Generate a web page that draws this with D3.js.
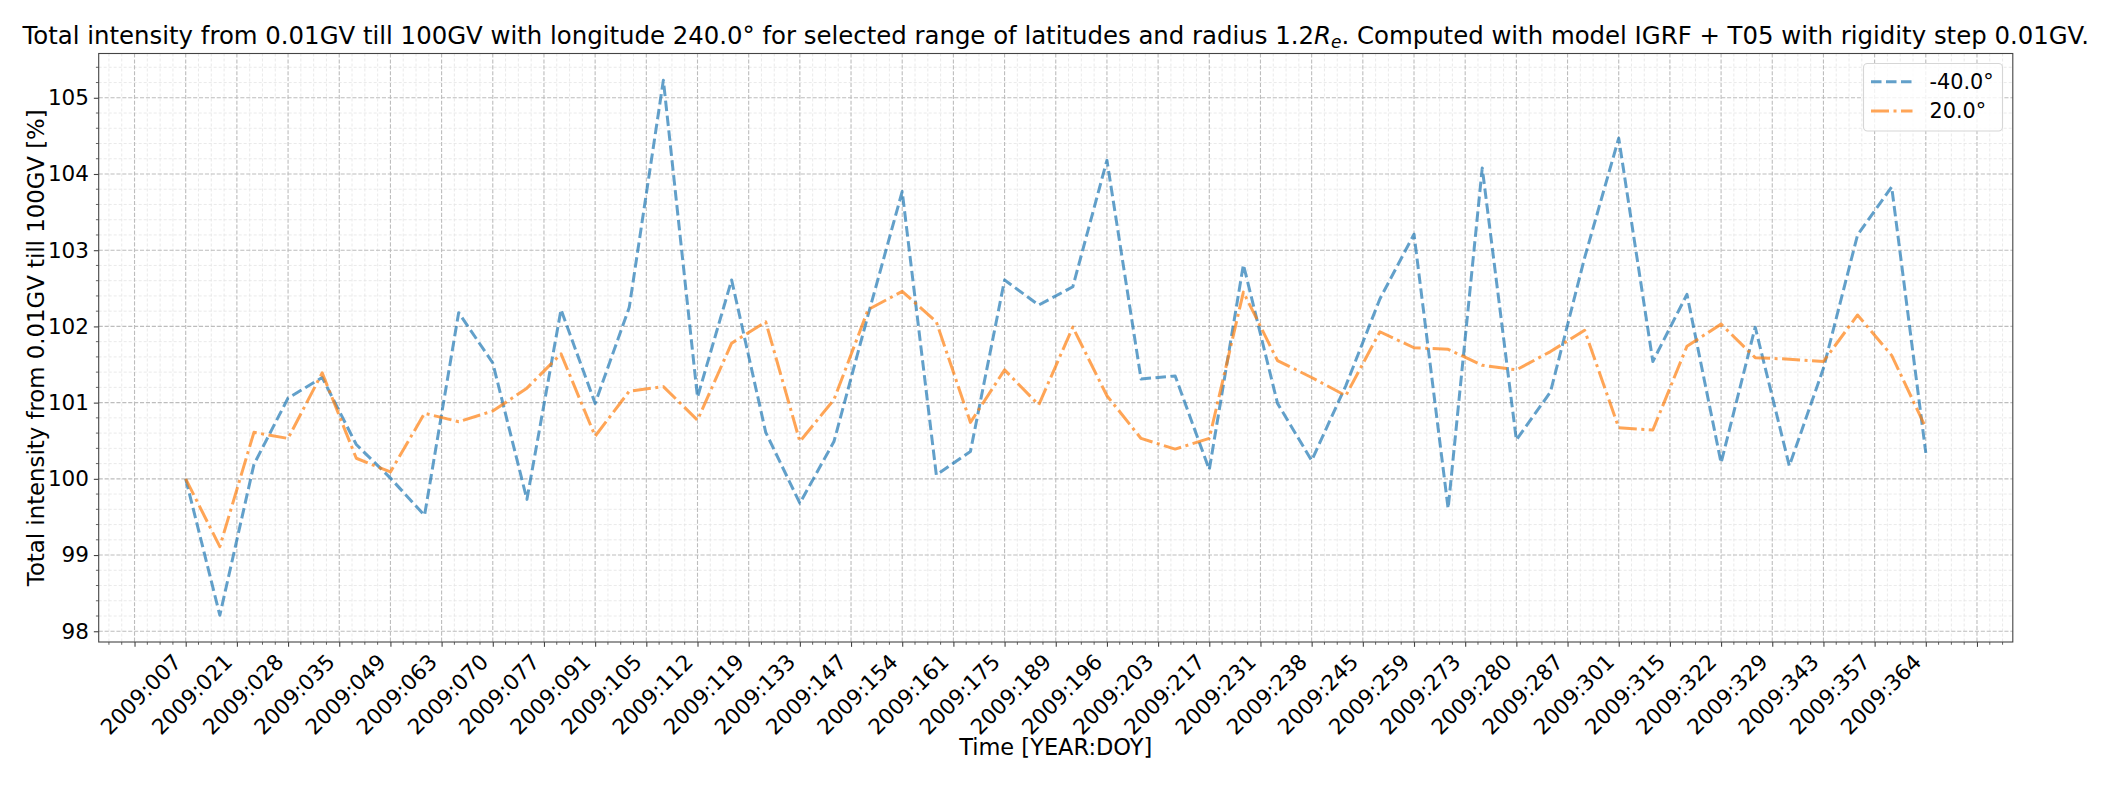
<!DOCTYPE html>
<html>
<head>
<meta charset="utf-8">
<script src="https://cdn.jsdelivr.net/npm/d3@7"></script>
<style>
  html, body { margin: 0; padding: 0; background: #ffffff; }
  svg { display: block; }
  text { font-family: "DejaVu Sans", sans-serif; fill: #000; }
</style>
</head>
<body>
<div id="chart"></div>
<script>
// ---------------- data ----------------
const categories = [
  "2009:007","2009:014","2009:021","2009:028","2009:035","2009:042","2009:049","2009:056",
  "2009:063","2009:070","2009:077","2009:084","2009:091","2009:098","2009:105","2009:112",
  "2009:119","2009:126","2009:133","2009:140","2009:147","2009:154","2009:161","2009:168",
  "2009:175","2009:182","2009:189","2009:196","2009:203","2009:210","2009:217","2009:224",
  "2009:231","2009:238","2009:245","2009:252","2009:259","2009:266","2009:273","2009:280",
  "2009:287","2009:294","2009:301","2009:308","2009:315","2009:322","2009:329","2009:336",
  "2009:343","2009:350","2009:357","2009:364"
];
const seriesLat40S = [
  100.00, 98.21, 100.19, 101.06, 101.33, 100.45, 100.01, 99.52,
  102.18, 101.52, 99.73, 102.22, 100.99, 102.25, 105.23, 101.07,
  102.61, 100.61, 99.68, 100.49, 102.15, 103.77, 100.05, 100.36,
  102.61, 102.28, 102.52, 104.18, 101.31, 101.35, 100.12, 102.81,
  100.99, 100.24, 101.22, 102.36, 103.21, 99.61, 104.08, 100.51,
  101.14, 102.90, 104.47, 101.54, 102.42, 100.21, 101.99, 100.17,
  101.45, 103.20, 103.83, 100.34
];
const seriesLat20N = [
  100.00, 99.11, 100.61, 100.53, 101.39, 100.27, 100.09, 100.86,
  100.75, 100.89, 101.19, 101.64, 100.56, 101.15, 101.21, 100.77,
  101.78, 102.06, 100.49, 101.04, 102.22, 102.46, 102.06, 100.74,
  101.43, 100.97, 101.99, 101.09, 100.53, 100.39, 100.53, 102.45,
  101.55, 101.33, 101.09, 101.93, 101.72, 101.70, 101.49, 101.43,
  101.67, 101.95, 100.67, 100.64, 101.74, 102.03, 101.59, 101.57,
  101.54, 102.15, 101.62, 100.67
];
const seriesNames = ["-40.0\u00b0", "20.0\u00b0"];
// tick labels shown on the x axis (one every 1.5 samples)
const xTickLabels = [
  "2009:007","2009:021","2009:028","2009:035","2009:049","2009:063","2009:070","2009:077",
  "2009:091","2009:105","2009:112","2009:119","2009:133","2009:147","2009:154","2009:161",
  "2009:175","2009:189","2009:196","2009:203","2009:217","2009:231","2009:238","2009:245",
  "2009:259","2009:273","2009:280","2009:287","2009:301","2009:315","2009:322","2009:329",
  "2009:343","2009:357","2009:364"
];
const yTickValues = [98, 99, 100, 101, 102, 103, 104, 105];

// ---------------- layout ----------------
const W = 2110, H = 785;
const M = { left: 98.7, right: W - 2012.8, top: 53.5, bottom: H - 642 };
const pw = W - M.left - M.right, ph = H - M.top - M.bottom;
const FS = 21.5;      // tick label size
const FSL = 20.8;     // legend size

const svg = d3.select("#chart").append("svg")
  .attr("width", W).attr("height", H).attr("viewBox", `0 0 ${W} ${H}`);
svg.append("rect").attr("width", W).attr("height", H).attr("fill", "#fff");

const n = categories.length;
const xPad = (n - 1) * 0.05;
const x = d3.scaleLinear().domain([-xPad, (n - 1) + xPad]).range([M.left, M.left + pw]);
const all = seriesLat40S.concat(seriesLat20N);
const yMin = d3.min(all), yMax = d3.max(all), yPad = (yMax - yMin) * 0.05;
const y = d3.scaleLinear().domain([yMin - yPad, yMax + yPad]).range([M.top + ph, M.top]);

const step = 1.5;
const xMajor = d3.range(-step, n - 1 + step + 0.001, step);
const xMinor = d3.range(-2.25, n - 1 + 2.3, step / 4).filter(v => Math.abs(v / step - Math.round(v / step)) > 1e-6 && v >= x.domain()[0] && v <= x.domain()[1]);
const yMinor = d3.range(97.8, 105.7, 0.2).filter(v => Math.abs(v - Math.round(v)) > 1e-6 && v >= y.domain()[0] && v <= y.domain()[1]);

const g = svg.append("g");

// minor grid
g.append("g").selectAll("line").data(xMinor).join("line")
  .attr("x1", d => x(d)).attr("x2", d => x(d)).attr("y1", M.top).attr("y2", M.top + ph)
  .attr("stroke", "#e4e4e4").attr("stroke-width", 0.8).attr("stroke-dasharray", "3,2");
g.append("g").selectAll("line").data(yMinor).join("line")
  .attr("x1", M.left).attr("x2", M.left + pw).attr("y1", d => y(d)).attr("y2", d => y(d))
  .attr("stroke", "#e4e4e4").attr("stroke-width", 0.8).attr("stroke-dasharray", "3,2");
// major grid
g.append("g").selectAll("line").data(xMajor).join("line")
  .attr("x1", d => x(d)).attr("x2", d => x(d)).attr("y1", M.top).attr("y2", M.top + ph)
  .attr("stroke", "#bdbdbd").attr("stroke-width", 1.1).attr("stroke-dasharray", "4.1,1.8");
g.append("g").selectAll("line").data(yTickValues).join("line")
  .attr("x1", M.left).attr("x2", M.left + pw).attr("y1", d => y(d)).attr("y2", d => y(d))
  .attr("stroke", "#bdbdbd").attr("stroke-width", 1.1).attr("stroke-dasharray", "4.1,1.8");

// lines
const line = d3.line().x((d, i) => x(i)).y(d => y(d));
const styles = [
  { data: seriesLat40S, color: "#1f77b4", dash: "10.5,4.5" },
  { data: seriesLat20N, color: "#ff7f0e", dash: "18,4.5,3,4.5" }
];
styles.forEach(s => {
  g.append("path").datum(s.data).attr("d", line)
    .attr("fill", "none").attr("stroke", s.color).attr("stroke-opacity", 0.7)
    .attr("stroke-width", 3.0).attr("stroke-dasharray", s.dash)
    .attr("stroke-linejoin", "round").attr("stroke-linecap", "butt");
});

// axes
const axisColor = "#444";
const xAxis = d3.axisBottom(x).tickValues(xMajor).tickSize(4.86).tickPadding(4.86)
  .tickFormat(d => {
    const k = Math.round(d / step);
    return (d >= 0 && d <= n - 1) ? xTickLabels[k] : "";
  });
const xg = svg.append("g").attr("transform", `translate(0,${M.top + ph})`).call(xAxis);
xg.select(".domain").remove();
xg.selectAll(".tick line").attr("stroke", axisColor).attr("stroke-width", 1.1);
// rotated 45°, right edge of the rotated box at the tick (matplotlib ha='right')
const asc = 0.76 * FS, desc = 0.24 * FS;
xg.selectAll(".tick text")
  .attr("font-size", FS).attr("text-anchor", "end")
  .attr("y", 0).attr("dy", null)
  .attr("transform", `translate(${-0.707 * desc},${9.72 + 0.707 * asc}) rotate(-45)`);
// x minor ticks
svg.append("g").selectAll("line").data(xMinor).join("line")
  .attr("x1", d => x(d)).attr("x2", d => x(d)).attr("y1", M.top + ph).attr("y2", M.top + ph + 2.78)
  .attr("stroke", axisColor).attr("stroke-width", 0.83);

const yAxis = d3.axisLeft(y).tickValues(yTickValues).tickSize(4.86).tickPadding(4.86).tickFormat(d3.format("d"));
const yg = svg.append("g").attr("transform", `translate(${M.left},0)`).call(yAxis);
yg.select(".domain").remove();
yg.selectAll(".tick line").attr("stroke", axisColor).attr("stroke-width", 1.1);
yg.selectAll(".tick text").attr("font-size", FS);
svg.append("g").selectAll("line").data(yMinor).join("line")
  .attr("x1", M.left).attr("x2", M.left - 2.78).attr("y1", d => y(d)).attr("y2", d => y(d))
  .attr("stroke", axisColor).attr("stroke-width", 0.83);

// frame
svg.append("rect").attr("x", M.left).attr("y", M.top).attr("width", pw).attr("height", ph)
  .attr("fill", "none").attr("stroke", axisColor).attr("stroke-width", 1.1);

// labels
svg.append("text").attr("x", M.left + pw / 2).attr("y", 755).attr("text-anchor", "middle")
  .attr("font-size", 22.5).text("Time [YEAR:DOY]");
svg.append("text").attr("transform", `translate(44.4,${M.top + ph / 2}) rotate(-90)`)
  .attr("text-anchor", "middle").attr("font-size", 22.8)
  .text("Total intensity from 0.01GV till 100GV [%]");

// title
const title = svg.append("text").attr("x", M.left + pw / 2).attr("y", 44)
  .attr("text-anchor", "middle").attr("font-size", 24.4);
title.append("tspan").text("Total intensity from 0.01GV till 100GV with longitude 240.0\u00b0 for selected range of latitudes and radius 1.2");
title.append("tspan").attr("font-style", "italic").text("R");
title.append("tspan").attr("font-style", "italic").attr("font-size", 17).attr("dy", 4).text("e");
title.append("tspan").attr("dy", -4).text(". Computed with model IGRF + T05 with rigidity step 0.01GV.");

// legend
const lg = svg.append("g");
lg.append("rect").attr("x", 1863.5).attr("y", 63.5).attr("width", 139).attr("height", 67.5)
  .attr("rx", 4).attr("fill", "#fff").attr("fill-opacity", 0.8)
  .attr("stroke", "#d6d6d6").attr("stroke-width", 1.1);
styles.forEach((s, i) => {
  const cy = 81.7 + i * 29.3;
  lg.append("line").attr("x1", 1871).attr("x2", 1912.5).attr("y1", cy).attr("y2", cy)
    .attr("stroke", s.color).attr("stroke-opacity", 0.7).attr("stroke-width", 3.0)
    .attr("stroke-dasharray", s.dash);
  lg.append("text").attr("x", 1929.5).attr("y", cy).attr("dy", "0.36em")
    .attr("font-size", FSL).text(seriesNames[i]);
});
</script>
</body>
</html>
